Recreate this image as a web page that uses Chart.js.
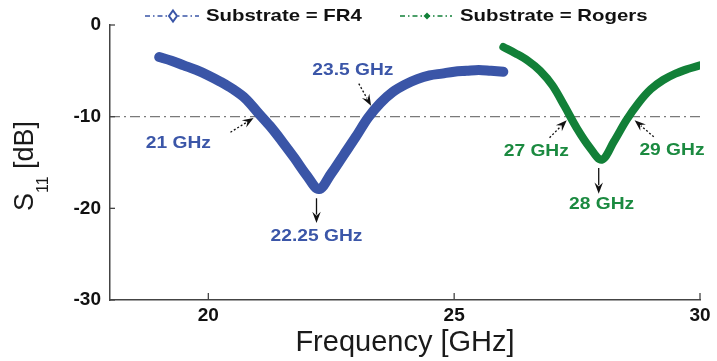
<!DOCTYPE html>
<html>
<head>
<meta charset="utf-8">
<script src="https://cdn.jsdelivr.net/npm/chart.js@4/dist/chart.umd.min.js"></script>
<style>
html, body { margin: 0; padding: 0; background: #fff; }
#wrap { width: 717px; height: 361px; }
</style>
</head>
<body>
<div id="wrap"><canvas id="s11Chart"></canvas></div>
<script>
// S11 data
const freqFR4 = [19, 19.25, 19.5, 19.75, 20, 20.25, 20.5, 20.75, 21, 21.25, 21.5, 21.75, 22, 22.25,
                 22.5, 22.75, 23, 23.25, 23.5, 23.75, 24, 24.25, 24.5, 24.75, 25, 25.25, 25.5, 25.75, 26];
const s11FR4 = [-3.5, -3.9, -4.4, -4.9, -5.5, -6.2, -7.0, -8.0, -9.5, -11.0, -12.7, -14.5, -16.4, -17.9,
                -16.2, -14.2, -12.2, -10.1, -8.5, -7.3, -6.5, -5.9, -5.5, -5.3, -5.1, -5.0, -4.9, -5.0, -5.1];
const freqRogers = [26, 26.25, 26.5, 26.75, 27, 27.25, 27.5, 27.75, 28, 28.25, 28.5, 28.75, 29, 29.25, 29.5, 29.75, 30];
const s11Rogers = [-2.4, -3.1, -3.9, -5.0, -6.6, -8.9, -11.3, -13.3, -14.7, -12.7, -10.4, -8.5, -7.0, -6.0, -5.3, -4.8, -4.4];
const seriesLabels = ['Substrate = FR4', 'Substrate = Rogers'];
const xTicks = [20, 25, 30];
const yTicks = [0, -10, -20, -30];
const threshold = -10;

// labels on the curves: text position and arrow (tail -> tip), in data units
const notes = [
    { text: '21 GHz', x: 19.39, y: -12.9, from: [20.45, -11.7], to: [20.92, -10.15], dashed: true, series: 0 },
    { text: '23.5 GHz', x: 22.94, y: -5.0, from: [23.06, -6.4], to: [23.31, -8.8], dashed: true, series: 0 },
    { text: '22.25 GHz', x: 22.2, y: -23.1, from: [22.2, -18.9], to: [22.2, -21.6], dashed: false, series: 0 },
    { text: '27 GHz', x: 26.67, y: -13.85, from: [26.94, -12.3], to: [27.29, -10.4], dashed: true, series: 1 },
    { text: '29 GHz', x: 29.43, y: -13.65, from: [29.06, -12.2], to: [28.67, -10.4], dashed: true, series: 1 },
    { text: '28 GHz', x: 28.0, y: -19.6, from: [27.94, -15.6], to: [27.94, -18.4], dashed: false, series: 1 }
];

const blue = '#3a55a7';
const green = '#128038';
const textColors = ['#3b56a8', '#1b8a40'];
const stretch = 1.2;
const fontFamily = '"Liberation Sans", Arial, sans-serif';

function wideText(ctx, text, x, y, font, color, align) {
    ctx.save();
    ctx.font = font;
    ctx.fillStyle = color;
    ctx.textBaseline = 'middle';
    ctx.textAlign = 'left';
    const w = ctx.measureText(text).width * stretch;
    ctx.translate(align === 'left' ? x : x - w / 2, y);
    ctx.scale(stretch, 1);
    ctx.fillText(text, 0, 0);
    ctx.restore();
}

function arrow(ctx, x1, y1, x2, y2, dashed) {
    const ang = Math.atan2(y2 - y1, x2 - x1);
    const head = 12;
    ctx.save();
    ctx.strokeStyle = '#111';
    ctx.fillStyle = '#111';
    ctx.lineWidth = 1.3;
    ctx.setLineDash(dashed ? [2, 2] : []);
    ctx.beginPath();
    ctx.moveTo(x1, y1);
    ctx.lineTo(x2 - head * 0.7 * Math.cos(ang), y2 - head * 0.7 * Math.sin(ang));
    ctx.stroke();
    ctx.setLineDash([]);
    ctx.beginPath();
    ctx.moveTo(x2, y2);
    ctx.lineTo(x2 - head * Math.cos(ang - 0.36), y2 - head * Math.sin(ang - 0.36));
    ctx.lineTo(x2 - head * 0.6 * Math.cos(ang), y2 - head * 0.6 * Math.sin(ang));
    ctx.lineTo(x2 - head * Math.cos(ang + 0.36), y2 - head * Math.sin(ang + 0.36));
    ctx.closePath();
    ctx.fill();
    ctx.restore();
}

const extrasPlugin = {
    id: 'extras',
    afterDraw(chart) {
        const ctx = chart.ctx;
        const xs = chart.scales.x, ys = chart.scales.y;
        const area = chart.chartArea;

        // inward tick marks
        ctx.save();
        ctx.strokeStyle = '#444';
        ctx.lineWidth = 1.3;
        ys.ticks.forEach(t => {
            const py = ys.getPixelForValue(t.value);
            ctx.beginPath(); ctx.moveTo(area.left, py); ctx.lineTo(area.left + 5, py); ctx.stroke();
        });
        xs.ticks.forEach(t => {
            const px = xs.getPixelForValue(t.value);
            ctx.beginPath(); ctx.moveTo(px, area.bottom); ctx.lineTo(px, area.bottom - 7); ctx.stroke();
        });
        ctx.restore();

        // notes with arrows
        const noteFont = 'bold 16px ' + fontFamily;
        notes.forEach(n => {
            arrow(ctx, xs.getPixelForValue(n.from[0]), ys.getPixelForValue(n.from[1]),
                  xs.getPixelForValue(n.to[0]), ys.getPixelForValue(n.to[1]), n.dashed);
            wideText(ctx, n.text, xs.getPixelForValue(n.x), ys.getPixelForValue(n.y), noteFont, textColors[n.series], 'center');
        });

        // legend
        const legendFont = 'bold 17px ' + fontFamily;
        const ly = 16;
        ctx.save();
        ctx.lineWidth = 1.5;
        ctx.setLineDash([5, 3, 1.5, 3]);
        ctx.strokeStyle = blue;
        ctx.beginPath(); ctx.moveTo(145, ly); ctx.lineTo(199, ly); ctx.stroke();
        ctx.strokeStyle = green;
        ctx.beginPath(); ctx.moveTo(400, ly); ctx.lineTo(452, ly); ctx.stroke();
        ctx.setLineDash([]);
        ctx.lineWidth = 2;
        ctx.strokeStyle = blue;
        ctx.fillStyle = '#fff';
        ctx.beginPath();
        ctx.moveTo(173, ly - 5.5); ctx.lineTo(177, ly); ctx.lineTo(173, ly + 5.5); ctx.lineTo(169, ly); ctx.closePath();
        ctx.fill(); ctx.stroke();
        ctx.fillStyle = green;
        ctx.beginPath();
        ctx.moveTo(427, ly - 3.5); ctx.lineTo(430.5, ly); ctx.lineTo(427, ly + 3.5); ctx.lineTo(423.5, ly); ctx.closePath();
        ctx.fill();
        ctx.restore();
        wideText(ctx, seriesLabels[0], 206, ly, legendFont, '#111', 'left');
        wideText(ctx, seriesLabels[1], 460, ly, legendFont, '#111', 'left');

        // y axis title with subscript
        ctx.save();
        ctx.fillStyle = '#1a1a1a';
        ctx.textBaseline = 'alphabetic';
        ctx.textAlign = 'left';
        const mainFont = '27px ' + fontFamily, subFont = '16px ' + fontFamily;
        ctx.font = mainFont; const wS = ctx.measureText('S').width; const wRest = ctx.measureText(' [dB]').width;
        ctx.font = subFont; const wSub = ctx.measureText('11').width;
        const total = wS + wSub + wRest;
        ctx.translate(33, 166);
        ctx.rotate(-Math.PI / 2);
        let u = -total / 2;
        ctx.font = mainFont; ctx.fillText('S', u, 0); u += wS;
        ctx.font = subFont; ctx.fillText('11', u, 15); u += wSub;
        ctx.font = mainFont; ctx.fillText(' [dB]', u, 0);
        ctx.restore();
    }
};

const ctx = document.getElementById('s11Chart').getContext('2d');
new Chart(ctx, {
    type: 'line',
    data: {
        datasets: [{
            label: seriesLabels[0],
            data: freqFR4.map((f, i) => ({ x: f, y: s11FR4[i] })),
            borderColor: blue,
            borderWidth: 10,
            pointRadius: 0,
            tension: 0.35,
            borderCapStyle: 'round',
            borderJoinStyle: 'round',
            order: 1
        }, {
            label: seriesLabels[1],
            data: freqRogers.map((f, i) => ({ x: f, y: s11Rogers[i] })),
            borderColor: green,
            borderWidth: 8,
            pointRadius: 0,
            tension: 0.35,
            borderCapStyle: 'round',
            borderJoinStyle: 'round',
            order: 2
        }, {
            label: 'threshold',
            data: [{ x: 18, y: threshold }, { x: 30, y: threshold }],
            borderColor: '#7a7a7a',
            borderWidth: 1.2,
            borderDash: [10, 4, 2, 4],
            pointRadius: 0,
            order: 10
        }]
    },
    options: {
        responsive: true,
        maintainAspectRatio: false,
        animation: false,
        layout: { padding: { top: 25, right: 17, left: 0, bottom: 0 } },
        plugins: { legend: { display: false }, tooltip: { enabled: false } },
        scales: {
            x: {
                type: 'linear',
                min: 18,
                max: 30,
                afterBuildTicks: s => { s.ticks = xTicks.map(v => ({ value: v })); },
                afterFit: s => { s.height = 61; },
                grid: { display: false, drawTicks: false },
                border: { display: true, color: '#444', width: 1.5 },
                ticks: { color: '#111', padding: 4, font: { family: fontFamily, size: 19, weight: 'bold' } },
                title: { display: true, text: 'Frequency [GHz]', color: '#1a1a1a', padding: { top: 0, bottom: 1 },
                         font: { family: fontFamily, size: 29 } }
            },
            y: {
                min: -30,
                max: 0,
                afterBuildTicks: s => { s.ticks = yTicks.map(v => ({ value: v })); },
                afterFit: s => { s.width = 110; },
                grid: { display: false, drawTicks: false },
                border: { display: true, color: '#444', width: 1.5 },
                ticks: { color: '#111', padding: 9, font: { family: fontFamily, size: 19, weight: 'bold' } }
            }
        }
    },
    plugins: [extrasPlugin]
});
</script>
</body>
</html>
